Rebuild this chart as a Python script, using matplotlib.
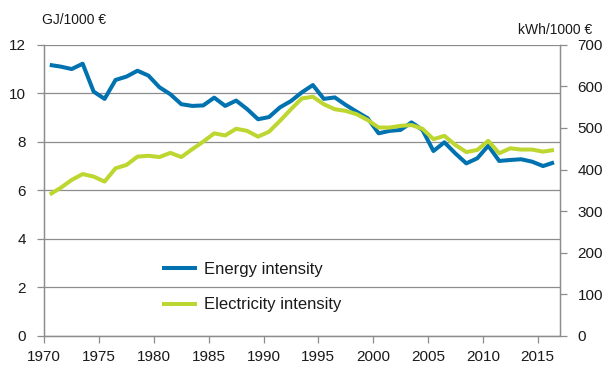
import matplotlib
matplotlib.use("Agg")
import matplotlib.pyplot as plt
import numpy as np

years = list(range(1970, 2017))
energy = [11.17, 11.10, 11.00, 11.22, 10.07, 9.77, 10.55, 10.69, 10.93, 10.73,
          10.25, 9.96, 9.55, 9.48, 9.50, 9.82, 9.48, 9.70, 9.35, 8.93,
          9.02, 9.42, 9.68, 10.04, 10.34, 9.77, 9.83, 9.52, 9.24, 8.97,
          8.35, 8.45, 8.49, 8.80, 8.49, 7.62, 7.98, 7.52, 7.11, 7.32,
          7.84, 7.21, 7.25, 7.28, 7.18, 7.00, 7.15]
electricity = [340, 356, 375, 389, 383, 371, 403, 411, 431, 433,
               430, 440, 430, 449, 467, 487, 482, 498, 493, 479,
               491, 517, 545, 571, 575, 557, 545, 541, 533, 519,
               501, 501, 505, 507, 498, 473, 481, 459, 442, 447,
               469, 439, 451, 448, 448, 443, 447]
left_ticks = [0, 2, 4, 6, 8, 10, 12]
right_ticks = [0, 100, 200, 300, 400, 500, 600, 700]
xtick_years = [1970, 1975, 1980, 1985, 1990, 1995, 2000, 2005, 2010, 2015]

BLUE = "#0072B0"
GREEN = "#BED630"
GRID = "#8c8c8c"
TXT = "#1a1a1a"

plt.rcParams['font.family'] = ['Liberation Sans', 'DejaVu Sans']

fig = plt.figure(figsize=(6.14, 3.78), dpi=100)
ax = fig.add_axes([44.3/614, 1-335.8/378, (559.5-44.3)/614, (335.8-44.8)/378])
ax2 = ax.twinx()

x = np.array(years) + 0.5
ax.plot(x, energy, color=BLUE, lw=2.9, solid_capstyle='butt', label='Energy intensity', zorder=3)
ax2.plot(x, electricity, color=GREEN, lw=2.9, solid_capstyle='butt', label='Electricity intensity', zorder=3)

ax.set_xlim(1970, 2017)
ax.set_ylim(0, 12)
ax2.set_ylim(0, 700)
ax.set_yticks(left_ticks)
ax2.set_yticks(right_ticks)
ax.set_xticks(xtick_years)
ax.set_xticklabels([str(y) for y in xtick_years])

ax.grid(axis='y', color=GRID, lw=0.9)
ax.set_axisbelow(True)
for a in (ax, ax2):
    for s in a.spines.values():
        s.set_color(GRID)
        s.set_linewidth(0.9)
    a.spines['top'].set_visible(False)
ax.tick_params(axis='y', direction='out', length=5, width=0.9, color=GRID, labelsize=11, labelcolor=TXT, pad=8)
ax.tick_params(axis='x', direction='out', length=5, width=0.9, color=GRID, labelsize=11, labelcolor=TXT, pad=5)
ax2.tick_params(axis='y', direction='out', length=5, width=0.9, color=GRID, labelsize=11, labelcolor=TXT, pad=8)

fig.text(42/614, 1-20/378, "GJ/1000 €", fontsize=10, color=TXT, ha='left', va='center')
fig.text(592/614, 1-30/378, "kWh/1000 €", fontsize=10, color=TXT, ha='right', va='center')

h1, l1 = ax.get_legend_handles_labels()
h2, l2 = ax2.get_legend_handles_labels()
leg = ax2.legend(h1 + h2, l1 + l2, loc='center left',
                 bbox_to_anchor=((162-44.3)/514.7, (335.8-287)/291),
                 frameon=False, fontsize=12, handlelength=2.1, handletextpad=0.4,
                 labelspacing=1.25, borderpad=0, borderaxespad=0)
for t in leg.get_texts():
    t.set_color(TXT)

fig.savefig("out.png", dpi=100)
